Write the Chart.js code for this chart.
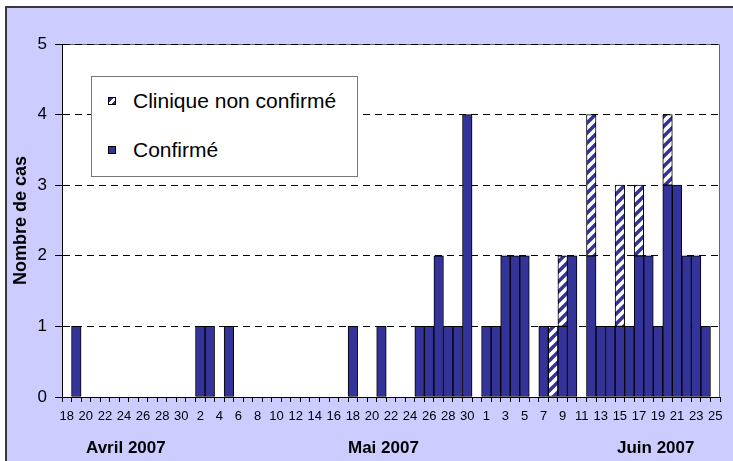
<!DOCTYPE html>
<html>
<head>
<meta charset="utf-8">
<script src="https://cdn.jsdelivr.net/npm/chart.js@4.4.0/dist/chart.umd.min.js"></script>
<style>
  html, body { margin: 0; padding: 0; background: #fff; overflow: hidden; }
  #cadre { position: relative; width: 733px; height: 461px; font-family: "Liberation Sans", Arial, sans-serif; }
  #cadre canvas { position: absolute; left: 0; top: 0; }
  #legende { position: absolute; left: 91px; top: 76px; width: 265px; height: 99px; border: 1px solid #777; background: #fff; }
  .item { position: absolute; left: 41px; font-size: 21px; line-height: 21px; color: #000; white-space: nowrap; }
  .carre { position: absolute; left: -25px; top: 7px; width: 6px; height: 6px; border: 1px solid #000; }
  .mois { position: absolute; top: 439px; font-weight: bold; font-size: 17px; line-height: 17px; color: #000; }
</style>
</head>
<body>
<div id="cadre">
  <canvas id="graphique" width="733" height="461"></canvas>
  <div id="legende">
    <div class="item" style="top:13px"><span class="carre" style="background:linear-gradient(to bottom right,#333399 0 35%,#fff 35% 68%,#333399 68%)"></span>Clinique non confirmé</div>
    <div class="item" style="top:62px"><span class="carre" style="background:#333399"></span>Confirmé</div>
  </div>
  <div class="mois" style="left:86px">Avril 2007</div>
  <div class="mois" style="left:348px">Mai 2007</div>
  <div class="mois" style="left:617px">Juin 2007</div>
</div>
<script>
// jours : 18 avril -> 25 juin 2007
var jours = [
  18, 19, 20, 21, 22, 23, 24, 25, 26, 27, 28, 29, 30,
  1, 2, 3, 4, 5, 6, 7, 8, 9, 10, 11, 12, 13, 14, 15, 16, 17, 18, 19, 20, 21, 22, 23, 24, 25, 26, 27, 28, 29, 30, 31,
  1, 2, 3, 4, 5, 6, 7, 8, 9, 10, 11, 12, 13, 14, 15, 16, 17, 18, 19, 20, 21, 22, 23, 24, 25
];

var confirmes = [
  0, 1, 0, 0, 0, 0, 0, 0, 0, 0, 0, 0, 0,
  0, 1, 1, 0, 1, 0, 0, 0, 0, 0, 0, 0, 0, 0, 0, 0, 0, 1, 0, 0, 1, 0, 0, 0, 1, 1, 2, 1, 1, 4, 0,
  1, 1, 2, 2, 2, 0, 1, 0, 1, 2, 0, 2, 1, 1, 1, 1, 2, 2, 1, 3, 3, 2, 2, 1, 0
];

var nonConfirmes = [
  0, 0, 0, 0, 0, 0, 0, 0, 0, 0, 0, 0, 0,
  0, 0, 0, 0, 0, 0, 0, 0, 0, 0, 0, 0, 0, 0, 0, 0, 0, 0, 0, 0, 0, 0, 0, 0, 0, 0, 0, 0, 0, 0, 0,
  0, 0, 0, 0, 0, 0, 0, 1, 1, 0, 0, 2, 0, 0, 2, 0, 1, 0, 0, 1, 0, 0, 0, 0, 0
];

var police = '"Liberation Sans", Arial, sans-serif';

// motif hachure pour les cas cliniques
var pc = document.createElement('canvas');
pc.width = 10; pc.height = 10;
var p = pc.getContext('2d');
p.fillStyle = '#fff';
p.fillRect(0, 0, 10, 10);
p.strokeStyle = '#333399';
p.lineWidth = 3.5;
p.beginPath();
p.moveTo(-2, 12); p.lineTo(12, -2);
p.moveTo(-3, 3); p.lineTo(3, -3);
p.moveTo(7, 13); p.lineTo(13, 7);
p.stroke();

var ctxG = document.getElementById('graphique').getContext('2d');
var hachures = ctxG.createPattern(pc, 'repeat');

var fond = {
  id: 'fond',
  beforeDraw: function (chart) {
    var ctx = chart.ctx, a = chart.chartArea;
    ctx.save();
    ctx.fillStyle = '#fff';
    ctx.fillRect(0, 0, chart.width, chart.height);
    ctx.fillStyle = '#ccccff';
    ctx.fillRect(6, 7, chart.width, chart.height);
    ctx.fillStyle = '#3a3a3a';
    ctx.fillRect(5, 6, chart.width, 2);
    ctx.fillRect(5, 6, 2, chart.height);
    ctx.fillStyle = '#fff';
    ctx.fillRect(a.left, a.top, a.right - a.left, a.bottom - a.top);
    ctx.strokeStyle = '#666';
    ctx.lineWidth = 1;
    ctx.beginPath();
    ctx.moveTo(a.left, a.top + 0.5);
    ctx.lineTo(a.right - 0.5, a.top + 0.5);
    ctx.lineTo(a.right - 0.5, a.bottom);
    ctx.stroke();
    ctx.restore();
  }
};

new Chart(ctxG, {
  type: 'bar',
  data: {
    labels: jours,
    datasets: [{
      label: 'Confirmé',
      data: confirmes.map(function (v) { return v || null; }),
      backgroundColor: '#333399',
      borderColor: '#000',
      borderWidth: 1,
      borderSkipped: false
    }, {
      label: 'Clinique non confirmé',
      data: nonConfirmes.map(function (v) { return v || null; }),
      backgroundColor: hachures,
      borderColor: '#000',
      borderWidth: 1,
      borderSkipped: false
    }]
  },
  plugins: [fond],
  options: {
    responsive: false,
    animation: false,
    devicePixelRatio: 1,
    layout: { padding: { left: 0, top: 44, right: 13, bottom: 0 } },
    datasets: { bar: { barPercentage: 1, categoryPercentage: 1 } },
    plugins: {
      legend: { display: false },
      tooltip: { enabled: false }
    },
    scales: {
      x: {
        stacked: true,
        grid: { display: true, offset: true, drawOnChartArea: false, tickLength: 5, color: '#000' },
        border: { color: '#000' },
        ticks: {
          autoSkip: false,
          maxRotation: 0,
          minRotation: 0,
          padding: 7,
          color: '#000',
          font: { family: police, size: 13 },
          callback: function (v, i) { return i % 2 === 0 ? jours[i] : ''; }
        },
        afterFit: function (s) { s.height = 64; }
      },
      y: {
        stacked: true,
        min: 0,
        max: 5,
        ticks: { stepSize: 1, padding: 8, color: '#000', font: { family: police, size: 17 } },
        grid: { color: '#000', tickLength: 7 },
        border: { color: '#000', dash: [7, 5] },
        title: {
          display: true,
          text: 'Nombre de cas',
          color: '#000',
          font: { family: police, size: 18, weight: 'bold' },
          padding: { top: 10, bottom: 0 }
        },
        afterFit: function (s) { s.width = 62; }
      }
    }
  }
});
</script>
</body>
</html>
